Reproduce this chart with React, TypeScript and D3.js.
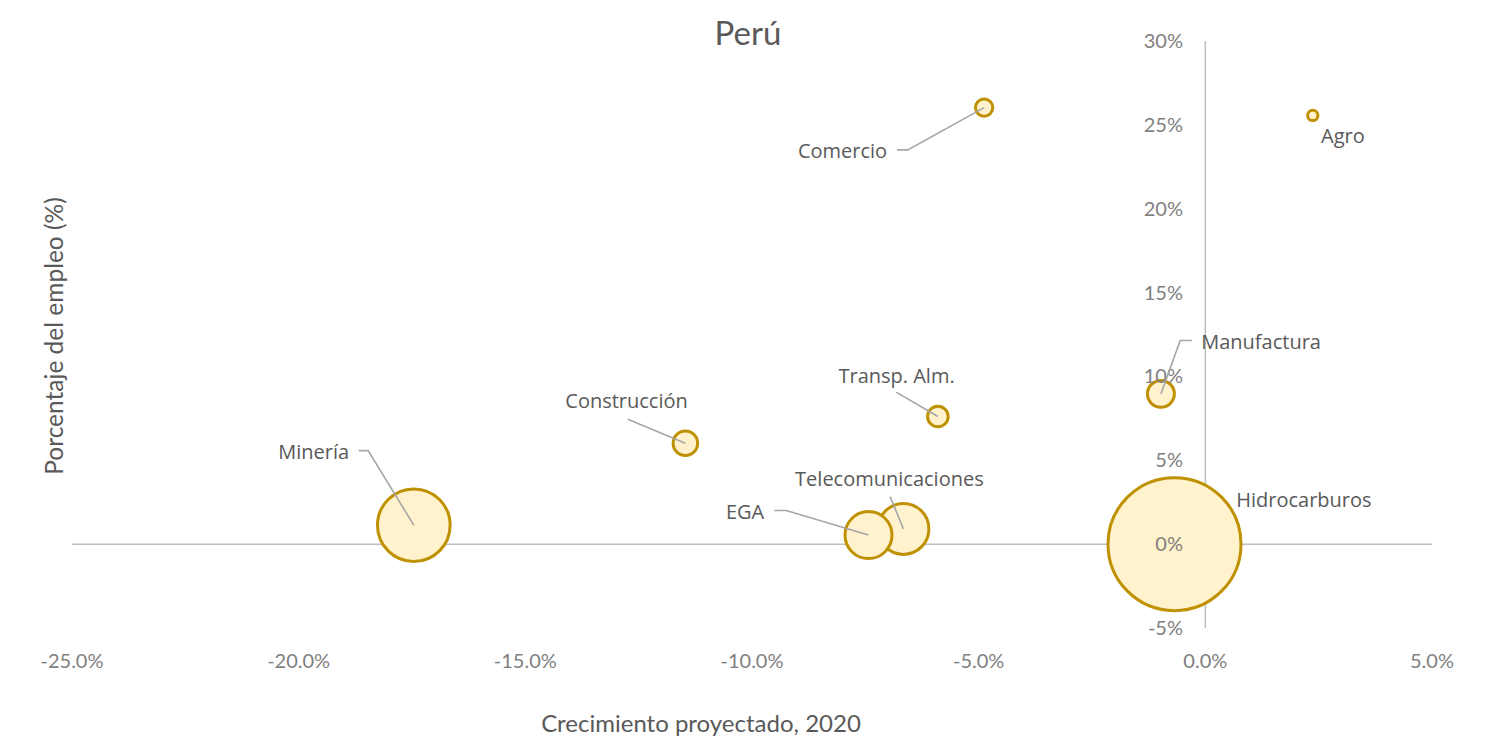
import React from "react";
import * as d3 from "d3";

// ---- Data ----
const sectors = ["Telecomunicaciones", "EGA", "Agro", "Comercio", "Manufactura", "Transp. Alm.", "Construcción", "Minería", "Hidrocarburos"];
const growth = [-6.66, -7.43, 2.37, -4.88, -0.98, -5.9, -11.47, -17.46, -0.68]; // % crecimiento proyectado 2020
const employment = [0.91, 0.54, 25.56, 26.03, 8.96, 7.61, 6.02, 1.13, 0.0]; // % del empleo
const bubbleSize = [14.7, 12.5, 0.6, 1.7, 4.1, 2.4, 3.4, 29.8, 100]; // tamaño relativo de burbuja
const xTicks = [-25, -20, -15, -10, -5, 0, 5];
const yTicks = [-5, 0, 5, 10, 15, 20, 25, 30];

// ---- Label layout (pixel offsets from bubble centre) ----
type LabelLayout = { dx: number; dy: number; anchor: string; leader: [number, number][] };
const labelLayout: Record<string, LabelLayout> = {
  "Agro": { dx: 8.3, dy: 27.3, anchor: "start", leader: [] },
  "Comercio": { dx: -97, dy: 50.3, anchor: "end", leader: [[-87, 42.3], [-76.3, 42.3]] },
  "Manufactura": { dx: 40.3, dy: -45, anchor: "start", leader: [[31, -53.3], [19.3, -53.3]] },
  "Transp. Alm.": { dx: -41.3, dy: -34, anchor: "middle", leader: [[-41.7, -24.4]] },
  "Construcción": { dx: -58.8, dy: -35.3, anchor: "middle", leader: [[-57.6, -24]] },
  "Minería": { dx: -64.7, dy: -66.3, anchor: "end", leader: [[-55, -74.6], [-45.7, -74.6]] },
  "Telecomunicaciones": { dx: -14, dy: -43, anchor: "middle", leader: [[-13.3, -32.3]] },
  "EGA": { dx: -104.3, dy: -16, anchor: "end", leader: [[-94.3, -24.6], [-82.3, -24.6]] },
  "Hidrocarburos": { dx: 61.7, dy: -37.6, anchor: "start", leader: [] },
};

const W = 1491;
const H = 744;

export default function App() {
  const x = d3.scaleLinear().domain([-25, 5]).range([72, 1432]);
  const y = d3.scaleLinear().domain([-5, 30]).range([628, 41]);
  const r = d3.scaleSqrt().domain([0, 100]).range([0, 66.5]);

  const pts = sectors.map((s, i) => ({ name: s, cx: x(growth[i]), cy: y(employment[i]), r: r(bubbleSize[i]) }));
  const line = d3.line();
  const fmtX = (v: number) => `${v.toFixed(1)}%`;
  const fmtY = (v: number) => `${v}%`;

  const tickFont = "Lato, 'Open Sans', sans-serif";
  const labelFont = "'Open Sans', sans-serif";

  return (
    <svg width={W} height={H} style={{ position: "absolute", left: 0, top: 0, background: "#fff" }}>
      {/* axis lines */}
      <line x1={x(-25)} x2={x(5)} y1={y(0)} y2={y(0)} stroke="#bfbfbf" strokeWidth={1.5} />
      <line x1={x(0)} x2={x(0)} y1={y(30)} y2={y(-5)} stroke="#bfbfbf" strokeWidth={1.5} />

      {/* bubbles */}
      {pts.map((p) => (
        <circle key={p.name} cx={p.cx} cy={p.cy} r={p.r} fill="#fff2cc" stroke="#bf9000" strokeWidth={3} />
      ))}

      {/* tick labels */}
      {xTicks.map((t) => (
        <text key={"x" + t} x={x(t)} y={668} textAnchor="middle" fontFamily={tickFont} fontSize={20} fill="#7f7f7f">
          {fmtX(t)}
        </text>
      ))}
      {yTicks.map((t) => (
        <text key={"y" + t} x={1183} y={y(t) + 7} textAnchor="end" fontFamily={tickFont} fontSize={20} fill="#7f7f7f">
          {fmtY(t)}
        </text>
      ))}

      {/* leader lines and data labels */}
      {pts.map((p) => {
        const L = labelLayout[p.name];
        const path: [number, number][] = [...L.leader.map(([dx, dy]) => [p.cx + dx, p.cy + dy] as [number, number]), [p.cx, p.cy]];
        return (
          <g key={"l" + p.name}>
            {L.leader.length > 0 && <path d={line(path) || ""} fill="none" stroke="#a6a6a6" strokeWidth={1.6} />}
            <text x={p.cx + L.dx} y={p.cy + L.dy} textAnchor={L.anchor} fontFamily={labelFont} fontSize={20} fill="#595959">
              {p.name}
            </text>
          </g>
        );
      })}

      {/* titles */}
      <text x={748} y={45} textAnchor="middle" fontFamily={tickFont} fontSize={33} fill="#595959">
        Perú
      </text>
      <text x={701} y={732} textAnchor="middle" fontFamily={tickFont} fontSize={24} fill="#595959">
        Crecimiento proyectado, 2020
      </text>
      <text transform="translate(63,336) rotate(-90)" textAnchor="middle" fontFamily={tickFont} fontSize={24.5} fill="#595959">
        Porcentaje del empleo (%)
      </text>
    </svg>
  );
}
